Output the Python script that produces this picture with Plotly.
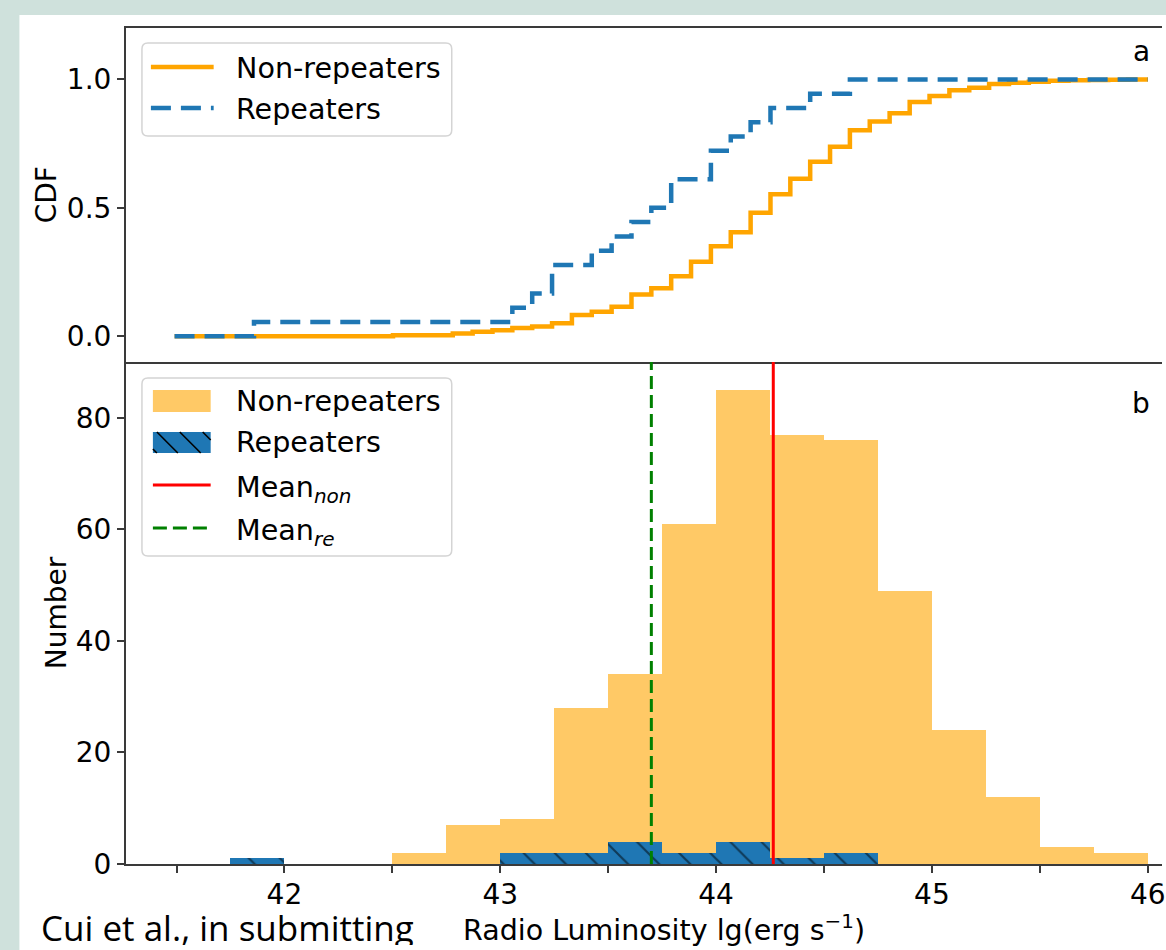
import plotly.graph_objects as go

# ---------------- data ----------------
# common evaluation grid of the two CDF curves (lg L)
cdf_x = [41.491, 41.583, 41.675, 41.767, 41.859, 41.951, 42.043, 42.135, 42.227, 42.319,
         42.411, 42.503, 42.595, 42.688, 42.780, 42.872, 42.964, 43.056, 43.148, 43.240,
         43.332, 43.424, 43.516, 43.608, 43.700, 43.792, 43.884, 43.976, 44.068, 44.160,
         44.252, 44.344, 44.436, 44.528, 44.620, 44.712, 44.804, 44.897, 44.989, 45.081,
         45.173, 45.265, 45.357, 45.449, 45.541, 45.633, 45.725, 45.817, 45.909, 46.001]
cdf_non = [0, 0, 0, 0, 0, 0, 0, 0, 0, 0,
           0, 0.004, 0.004, 0.004, 0.011, 0.018, 0.024, 0.032, 0.038, 0.051,
           0.083, 0.096, 0.115, 0.163, 0.187, 0.234, 0.290, 0.351, 0.405, 0.481,
           0.553, 0.613, 0.679, 0.738, 0.802, 0.836, 0.868, 0.912, 0.935, 0.958,
           0.967, 0.982, 0.987, 0.991, 0.995, 0.997, 0.998, 0.999, 1.0, 1.0]
cdf_re_counts = [0, 0, 0, 0, 1, 1, 1, 1, 1, 1,
                 1, 1, 1, 1, 1, 1, 1, 2, 3, 5,
                 5, 6, 7, 8, 9, 11, 11, 13, 14, 15,
                 16, 16, 17, 17, 18, 18, 18, 18, 18, 18,
                 18, 18, 18, 18, 18, 18, 18, 18, 18, 18]
N_RE = 18

BIN_WIDTH = 0.25
hist_non_left = [42.5, 42.75, 43.0, 43.25, 43.5, 43.75, 44.0, 44.25, 44.5, 44.75,
                 45.0, 45.25, 45.5, 45.75]
hist_non = [2, 7, 8, 28, 34, 61, 85, 77, 76, 49, 24, 12, 3, 2]
hist_re_left = [41.75, 42.0, 42.25, 42.5, 42.75, 43.0, 43.25, 43.5, 43.75, 44.0, 44.25, 44.5]
hist_re = [1, 0, 0, 0, 0, 2, 2, 4, 2, 4, 1, 2]

MEAN_NON = 44.265
MEAN_RE = 43.70

x_tickvals = [42, 43, 44, 45, 46]
cdf_tickvals = [0.0, 0.5, 1.0]
num_tickvals = [0, 20, 40, 60, 80]

# ---------------- layout helpers ----------------
W, H = 1166, 950
PX_L, PX_R, PX_T, PX_B = 126, 1166, 28, 864
PX_SPLIT = 362


def px_x(px):
    return (px - PX_L) / (PX_R - PX_L)


def px_y(py):
    return (PX_B - py) / (PX_B - PX_T)


SPLIT = px_y(PX_SPLIT)
FONT = "DejaVu Sans"
AXC = "#3a3a3a"
ORANGE = "#FFA500"
ORANGE_FILL = "#FFC966"
BLUE = "#1f77b4"

fig = go.Figure()

# ---- panel b: histograms ----
fig.add_trace(go.Bar(x=hist_non_left, y=hist_non, width=BIN_WIDTH, offset=0,
                     marker=dict(color=ORANGE_FILL, line=dict(width=0)),
                     name="Non-repeaters", showlegend=False, xaxis="x", yaxis="y"))
fig.add_trace(go.Bar(x=hist_re_left, y=hist_re, width=BIN_WIDTH, offset=0,
                     marker=dict(color=BLUE, line=dict(width=0),
                                 pattern=dict(shape="\\", fgcolor="black", bgcolor=BLUE,
                                              size=22, solidity=0.1, fillmode="overlay")),
                     name="Repeaters", showlegend=False, xaxis="x", yaxis="y"))

# ---- panel a: CDFs ----
fig.add_trace(go.Scatter(x=cdf_x, y=cdf_non, mode="lines",
                         line=dict(color=ORANGE, width=4.5, shape="hv"),
                         name="Non-repeaters", showlegend=False, xaxis="x2", yaxis="y2"))
fig.add_trace(go.Scatter(x=cdf_x, y=[c / N_RE for c in cdf_re_counts], mode="lines",
                         line=dict(color=BLUE, width=4.5, shape="hv", dash="20px,10px"),
                         name="Repeaters", showlegend=False, xaxis="x2", yaxis="y2"))

shapes = []
# white slide panel behind the figure
shapes.append(dict(type="rect", xref="paper", yref="paper", layer="below",
                   x0=px_x(19), x1=px_x(W + 20), y0=px_y(H + 20), y1=px_y(15),
                   fillcolor="white", line=dict(width=0)))
# mean lines
shapes.append(dict(type="line", xref="x", yref="y domain", x0=MEAN_NON, x1=MEAN_NON,
                   y0=0, y1=1, line=dict(color="red", width=3)))
shapes.append(dict(type="line", xref="x", yref="y domain", x0=MEAN_RE, x1=MEAN_RE,
                   y0=0, y1=1, line=dict(color="green", width=3, dash="13px,6px")))


def rounded_rect(x0, y0, x1, y1, r):
    pts = lambda x, y: f"{px_x(x):.6f},{px_y(y):.6f}"
    return (f"M{pts(x0 + r, y0)} L{pts(x1 - r, y0)} Q{pts(x1, y0)} {pts(x1, y0 + r)} "
            f"L{pts(x1, y1 - r)} Q{pts(x1, y1)} {pts(x1 - r, y1)} "
            f"L{pts(x0 + r, y1)} Q{pts(x0, y1)} {pts(x0, y1 - r)} "
            f"L{pts(x0, y0 + r)} Q{pts(x0, y0)} {pts(x0 + r, y0)} Z")


# legend frames
for (bx0, by0, bx1, by1) in [(142, 43, 453, 136), (142, 378, 453, 556)]:
    shapes.append(dict(type="path", xref="paper", yref="paper",
                       path=rounded_rect(bx0, by0, bx1, by1, 6),
                       fillcolor="rgba(255,255,255,0.8)", line=dict(color="#d4d4d4", width=1.5)))

# legend a symbols
shapes.append(dict(type="line", xref="paper", yref="paper", x0=px_x(151), x1=px_x(214),
                   y0=px_y(67), y1=px_y(67), line=dict(color=ORANGE, width=4.5)))
shapes.append(dict(type="line", xref="paper", yref="paper", x0=px_x(151), x1=px_x(214),
                   y0=px_y(108), y1=px_y(108), line=dict(color=BLUE, width=4.5, dash="20px,10px")))
# legend b symbols
shapes.append(dict(type="rect", xref="paper", yref="paper", x0=px_x(153), x1=px_x(211),
                   y0=px_y(412), y1=px_y(390), fillcolor=ORANGE_FILL, line=dict(width=0)))
shapes.append(dict(type="rect", xref="paper", yref="paper", x0=px_x(153), x1=px_x(211),
                   y0=px_y(453), y1=px_y(432), fillcolor=BLUE, line=dict(width=0)))
for (hx0, hy0, hx1, hy1) in [(157, 432, 178, 453), (180, 432, 201, 453), (203, 432, 211, 440),
                             (153, 449, 157, 453)]:
    shapes.append(dict(type="line", xref="paper", yref="paper", x0=px_x(hx0), x1=px_x(hx1),
                       y0=px_y(hy0), y1=px_y(hy1), line=dict(color="black", width=1.6)))
shapes.append(dict(type="line", xref="paper", yref="paper", x0=px_x(153), x1=px_x(211),
                   y0=px_y(485), y1=px_y(485), line=dict(color="red", width=3)))
shapes.append(dict(type="line", xref="paper", yref="paper", x0=px_x(153), x1=px_x(211),
                   y0=px_y(528), y1=px_y(528), line=dict(color="green", width=3, dash="14px,6px")))

annotations = []


def txt(text, xpx, ypx, size=28, family=FONT, xanchor="left", angle=0, xref="paper", xval=None,
        height=None):
    ann = dict(text=text, xref=xref, yref="paper",
               x=px_x(xpx) if xval is None else xval, y=px_y(ypx),
               xanchor=xanchor, yanchor="middle", showarrow=False,
               textangle=angle, font=dict(family=family, size=size, color="black"))
    if height is not None:
        ann["height"] = height
        ann["valign"] = "middle"
    annotations.append(ann)


# legend labels
LEG = 28.6
txt("Non-repeaters", 234, 68, size=LEG)
txt("Repeaters", 234, 109, size=LEG)
txt("Non-repeaters", 234, 401, size=LEG)
txt("Repeaters", 234, 442, size=LEG)
txt("Mean<sub><i>non</i></sub>", 234, 489, size=LEG)
txt("Mean<sub><i>re</i></sub>", 234, 532, size=LEG)
# panel letters
txt("a", 1145, 51, xanchor="center")
txt("b", 1145, 403, xanchor="center")
# axis titles
txt("CDF", 46, 195, xanchor="center", angle=-90)
txt("Number", 56, 613, xanchor="center", angle=-90)
txt("Radio Luminosity lg(erg s<sup>\u22121</sup>)", 0, 928, size=28.5, xanchor="center",
    xref="x", xval=43.76)
# slide credit
txt("Cui et al., in submitting", 39, 927, size=35, family="Open Sans", height=36)

tickfont = dict(family=FONT, size=28, color="black")
common_axis = dict(showline=True, linecolor=AXC, linewidth=2, showgrid=False, zeroline=False,
                   ticks="outside", ticklen=7, tickwidth=2, tickcolor=AXC, tickfont=tickfont)

fig.update_layout(
    width=W, height=H, autosize=False,
    margin=dict(l=PX_L, r=0, t=PX_T, b=H - PX_B, pad=0),
    paper_bgcolor="#cfe1dc", plot_bgcolor="white",
    barmode="overlay", bargap=0,
    showlegend=False,
    xaxis=dict(domain=[0, 1], anchor="y", range=[41.266, 46.066], tickvals=x_tickvals,
               mirror=False, ticklabeloverflow="allow", ticklabelstandoff=-3,
               minor=dict(dtick=0.5, tick0=0, ticks="outside", ticklen=7, tickwidth=2, tickcolor=AXC),
               **common_axis),
    yaxis=dict(domain=[0, SPLIT], anchor="x", range=[0, 90], tickvals=num_tickvals, **common_axis),
    xaxis2=dict(domain=[0, 1], anchor="y2", matches="x", range=[41.266, 46.066],
                showline=True, linecolor=AXC, linewidth=2, mirror=True, showgrid=False,
                zeroline=False, ticks="", showticklabels=False),
    yaxis2=dict(domain=[SPLIT, 1], anchor="x2", range=[-0.1, 1.2], tickvals=cdf_tickvals,
                tickformat=".1f", **common_axis),
    shapes=shapes,
    annotations=annotations,
)

fig.write_html("out.html", config={"displayModeBar": False},
               post_script="document.body.style.margin='0';document.body.style.padding='0';")
